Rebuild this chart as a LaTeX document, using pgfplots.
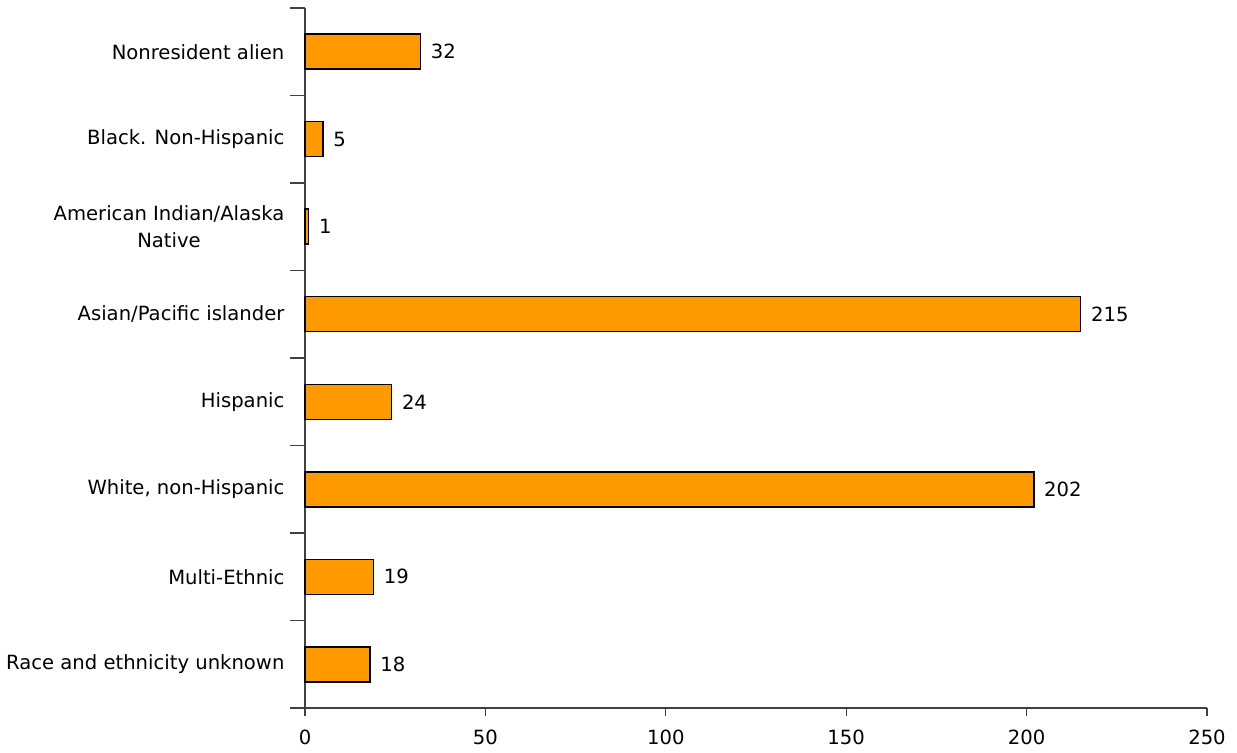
\documentclass[border=0pt]{standalone}
\usepackage{pgfplots}
\pgfplotsset{compat=1.18}
\usepackage{fontspec}
\setmainfont{DejaVu Sans}
\definecolor{barorange}{HTML}{FF9900}
\begin{document}
\begin{tikzpicture}
\begin{axis}[
  at={(0,0)}, anchor=south west,
  scale only axis, width=451pt, height=350pt,
  xmin=0, xmax=250, ymin=-0.5, ymax=7.5, y dir=reverse,
  xbar, bar width=17.5pt, bar shift=0pt,
  axis x line*=bottom, axis y line*=left,
  axis line style={-, black!75, line width=0.6pt},
  xtick={0,50,...,250},
  ytick={-0.5,0.5,...,7.5},
  y tick label as interval,
  yticklabels={Nonresident alien, Black. Non-Hispanic, {American Indian/Alaska\\Native}, Asian/Pacific islander, Hispanic, {White, non-Hispanic}, Multi-Ethnic, Race and ethnicity unknown},
  tick align=outside,
  xtick style={black!75, line width=0.6pt, /pgfplots/major tick length=4pt},
  ytick style={black!75, line width=0.6pt, /pgfplots/major tick length=7.5pt},
  yticklabel style={align=center, font=\fontsize{9.8}{13.5}\selectfont, xshift=-2.5pt},
  xticklabel style={font=\fontsize{9.8}{13.5}\selectfont, yshift=-3pt},
  /pgf/number format/assume math mode=true,
  point meta=x,
  nodes near coords,
  nodes near coords align={horizontal},
  every node near coord/.append style={font=\fontsize{9.8}{13.5}\selectfont, black, xshift=1.5pt},
  clip=false,
]
\addplot[fill=barorange, draw=black, line width=0.75pt] coordinates {(32,0) (5,1) (1,2) (215,3) (24,4) (202,5) (19,6) (18,7)};
\end{axis}
\pgfresetboundingbox
\useasboundingbox (-152.5pt,-22.5pt) rectangle (466pt,354pt);
\end{tikzpicture}
\end{document}
